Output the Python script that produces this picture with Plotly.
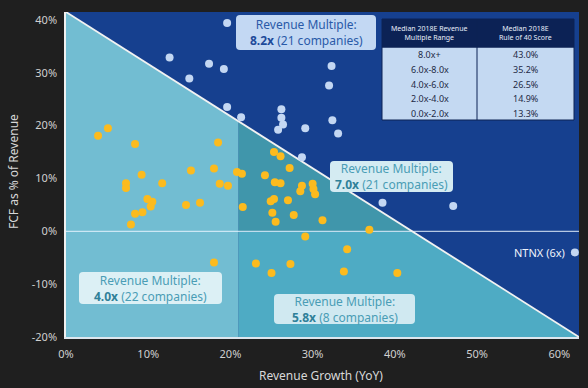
import plotly.graph_objects as go

# ---------------- data ----------------
# Companies below the Rule-of-40 line (yellow)
orange_growth = [3.9, 5.1, 8.4, 18.5, 9.2, 15.2, 18.0, 20.8, 21.4, 7.3, 7.3, 11.7, 18.7, 19.7,
                 9.9, 10.5, 10.3, 14.6, 16.3, 8.4, 9.3, 7.9, 18.0,
                 21.5, 25.3, 26.1, 27.2, 24.2, 25.4, 26.1, 28.7, 28.5, 30.0, 30.1, 30.3,
                 24.9, 25.3, 27.0, 25.1, 27.7, 25.5, 31.2, 36.9, 29.1, 34.2, 23.1, 27.3,
                 25.0, 33.8, 40.3]
orange_fcf = [18.1, 19.5, 16.5, 16.8, 10.7, 11.5, 11.9, 11.2, 10.9, 9.1, 8.2, 9.1, 9.0, 8.6,
              6.1, 5.6, 4.7, 5.0, 5.4, 3.3, 3.6, 1.3, -5.9,
              4.6, 15.0, 14.2, 12.0, 10.6, 9.3, 9.1, 8.6, 7.6, 9.0, 8.0, 7.0,
              5.7, 6.1, 5.9, 3.5, 3.1, 1.8, 2.1, 0.3, -1.0, -3.4, -6.1, -6.2,
              -7.9, -7.6, -7.9]
# Companies above the Rule-of-40 line (light blue)
blue_growth = [19.6, 12.6, 17.4, 19.2, 15.0, 32.3, 32.0, 19.6, 21.3, 26.2, 26.2, 26.4,
               25.8, 29.1, 32.4, 33.1, 28.7, 38.5, 47.1]
blue_fcf = [39.4, 32.9, 31.7, 30.7, 28.9, 31.3, 27.6, 23.5, 21.6, 23.1, 21.5, 20.2,
            19.2, 19.5, 21.0, 18.5, 14.0, 5.4, 4.8]
ntnx_growth = [61.9]
ntnx_fcf = [-4.0]
ntnx_label = "NTNX (6x)"

# Region call-outs
region_multiples = ["8.2x", "7.0x", "4.0x", "5.8x"]
region_counts = [21, 21, 22, 8]

# Table
table_header = ["Median 2018E Revenue<br>Multiple Range", "Median 2018E<br>Rule of 40 Score"]
multiple_ranges = ["8.0x+", "6.0x-8.0x", "4.0x-6.0x", "2.0x-4.0x", "0.0x-2.0x"]
rule40_scores = ["43.0%", "35.2%", "26.5%", "14.9%", "13.3%"]

x_ticks = [0, 10, 20, 30, 40, 50, 60]
y_ticks = [-20, -10, 0, 10, 20, 30, 40]
x_title = "Revenue Growth (YoY)"
y_title = "FCF as % of Revenue"

# ---------------- geometry ----------------
X_MAX = 62.4
Y_MIN, Y_MAX = -20, 41.5
SPLIT_X = 21
W, H = 588, 388
L, R, T, B = 66, 579, 12, 337  # plot area in pixels


def line_y(x):
    return Y_MAX - (Y_MAX - Y_MIN) * x / X_MAX


X_ZERO = X_MAX * Y_MAX / (Y_MAX - Y_MIN)


def pxx(px):
    return (px - L) / (R - L)


def pxy(py):
    return (B - py) / (B - T)


def rrect(x0, y0, x1, y1, r=4):
    a0, a1 = pxx(x0), pxx(x1)
    b0, b1 = pxy(y1), pxy(y0)
    rx, ry = r / (R - L), r / (B - T)
    return (f"M {a0+rx},{b0} L {a1-rx},{b0} Q {a1},{b0} {a1},{b0+ry} "
            f"L {a1},{b1-ry} Q {a1},{b1} {a1-rx},{b1} L {a0+rx},{b1} "
            f"Q {a0},{b1} {a0},{b1-ry} L {a0},{b0+ry} Q {a0},{b0} {a0+rx},{b0} Z")


BG = "#1f1f1f"
DARK_BLUE = "#16408f"
LIGHT_TEAL = "#72bdd2"
DARK_TEAL = "#4096ab"
MID_TEAL = "#4eabc4"
ORANGE = "#fcbb1e"
LBLUE = "#c3d7f3"
FONT = "Noto Sans"

fig = go.Figure()

fig.add_trace(go.Scatter(x=orange_growth, y=orange_fcf, mode="markers",
                         marker=dict(color=ORANGE, size=8), hoverinfo="skip", showlegend=False))
fig.add_trace(go.Scatter(x=blue_growth + ntnx_growth, y=blue_fcf + ntnx_fcf, mode="markers",
                         marker=dict(color=LBLUE, size=8), hoverinfo="skip", showlegend=False))

shapes = []
shapes.append(dict(type="path", layer="below", line=dict(width=0), fillcolor=LIGHT_TEAL,
                   path=f"M 0,{Y_MAX} L 0,{Y_MIN} L {SPLIT_X},{Y_MIN} L {SPLIT_X},{line_y(SPLIT_X)} Z"))
shapes.append(dict(type="path", layer="below", line=dict(width=0), fillcolor=DARK_TEAL,
                   path=f"M {SPLIT_X},0 L {SPLIT_X},{line_y(SPLIT_X)} L {X_ZERO},0 Z"))
shapes.append(dict(type="path", layer="below", line=dict(width=0), fillcolor=MID_TEAL,
                   path=f"M {SPLIT_X},0 L {X_ZERO},0 L {X_MAX},{Y_MIN} L {SPLIT_X},{Y_MIN} Z"))
shapes.append(dict(type="line", layer="below", x0=0, x1=X_MAX, y0=0, y1=0,
                   line=dict(color="rgba(235,245,255,0.75)", width=1.2)))
shapes.append(dict(type="line", layer="below", x0=0, x1=X_MAX, y0=Y_MAX, y1=Y_MIN,
                   line=dict(color="#f2f2f2", width=1.8)))

annotations = []
boxes = [
    ((236, 15, 376, 50), "#c3d8f3", "#2a5aa8", "#1d4a9a"),
    ((330, 161, 453, 192), "#d4ebf2", "#4a9db5", "#2f8099"),
    ((79, 272, 222, 304), "#dcf0f5", "#4a9db5", "#2f8099"),
    ((274, 294, 415, 324), "#d0e9f1", "#4a9db5", "#2f8099"),
]
for (bx, fill, tcol, bcol), mult, cnt in zip(boxes, region_multiples, region_counts):
    x0, y0, x1, y1 = bx
    shapes.append(dict(type="path", xref="paper", yref="paper", layer="above",
                       path=rrect(x0, y0, x1, y1), fillcolor=fill, line=dict(width=0)))
    annotations.append(dict(xref="paper", yref="paper", x=pxx((x0 + x1) / 2), y=pxy((y0 + y1) / 2),
                            text=f"Revenue Multiple:<br><span style='color:{bcol}'><b>{mult}</b></span> ({cnt} companies)",
                            showarrow=False, font=dict(family=FONT, size=12, color=tcol),
                            xanchor="center", yanchor="middle", align="center"))

# table
TX0, TX1, TY0, THEAD, TY1, TDIV = 382, 574, 19, 47, 120, 477
NAVY = "#0c2255"
shapes.append(dict(type="rect", xref="paper", yref="paper", layer="above",
                   x0=pxx(TX0), x1=pxx(TX1), y0=pxy(TY1), y1=pxy(THEAD),
                   fillcolor="#c4d9f2", line=dict(color=NAVY, width=1)))
shapes.append(dict(type="rect", xref="paper", yref="paper", layer="above",
                   x0=pxx(TX0), x1=pxx(TX1), y0=pxy(THEAD), y1=pxy(TY0),
                   fillcolor=NAVY, line=dict(color=NAVY, width=1)))
shapes.append(dict(type="line", xref="paper", yref="paper", layer="above",
                   x0=pxx(TDIV), x1=pxx(TDIV), y0=pxy(TY1), y1=pxy(TY0),
                   line=dict(color=NAVY, width=1)))
col_centers = [(TX0 + TDIV) / 2, (TDIV + TX1) / 2]
for cx, htxt in zip(col_centers, table_header):
    annotations.append(dict(xref="paper", yref="paper", x=pxx(cx), y=pxy((TY0 + THEAD) / 2),
                            text=htxt, showarrow=False, align="center",
                            xanchor="center", yanchor="middle",
                            font=dict(family=FONT, size=7, color="#e8eefa")))
row_h = (TY1 - THEAD) / len(multiple_ranges)
for i, (rng, sc) in enumerate(zip(multiple_ranges, rule40_scores)):
    cy = THEAD + row_h * (i + 0.5) + 0.5
    for cx, txt in zip(col_centers, [rng, sc]):
        annotations.append(dict(xref="paper", yref="paper", x=pxx(cx), y=pxy(cy),
                                text=txt, showarrow=False,
                                xanchor="center", yanchor="middle",
                                font=dict(family=FONT, size=9, color="#1e2a45")))

# NTNX label
annotations.append(dict(x=ntnx_growth[0], y=ntnx_fcf[0], text=ntnx_label, showarrow=False,
                        xanchor="right", yanchor="middle", xshift=-8,
                        font=dict(family=FONT, size=11, color="#f0f4fb")))

# axis titles
annotations.append(dict(xref="paper", yref="paper", x=pxx(321), y=pxy(375), text=x_title,
                        showarrow=False, xanchor="center", yanchor="middle",
                        font=dict(family=FONT, size=12, color="#d8d8d8")))
annotations.append(dict(xref="paper", yref="paper", x=pxx(13), y=pxy(172), text=y_title,
                        showarrow=False, textangle=-90, xanchor="center", yanchor="middle",
                        font=dict(family=FONT, size=12, color="#d8d8d8")))

fig.update_layout(
    width=W, height=H,
    margin=dict(l=L, r=W - R, t=T, b=H - B, autoexpand=False),
    paper_bgcolor=BG, plot_bgcolor=DARK_BLUE,
    shapes=shapes, annotations=annotations,
    font=dict(family=FONT, color="#d0d0d0"),
    xaxis=dict(range=[0, X_MAX], tickvals=x_ticks, ticktext=[f"{v}%" for v in x_ticks],
               automargin=False, fixedrange=True,
               showgrid=False, zeroline=False, showline=True, linecolor="#dde6ee", linewidth=1.5,
               ticks="outside", ticklen=6, tickcolor=BG, tickfont=dict(size=11, color="#d0d0d0")),
    yaxis=dict(range=[Y_MIN, Y_MAX], tickvals=y_ticks, ticktext=[f"{v}%" for v in y_ticks],
               automargin=False, fixedrange=True,
               showgrid=False, zeroline=False, showline=True, linecolor="#f0f0f0", linewidth=1.5,
               ticks="outside", ticklen=5, tickcolor=BG, tickfont=dict(size=11, color="#d0d0d0")),
)

fig.write_html("out.html", config={"displayModeBar": False},
               post_script="document.body.style.margin='0';document.body.style.background='#1f1f1f';")
